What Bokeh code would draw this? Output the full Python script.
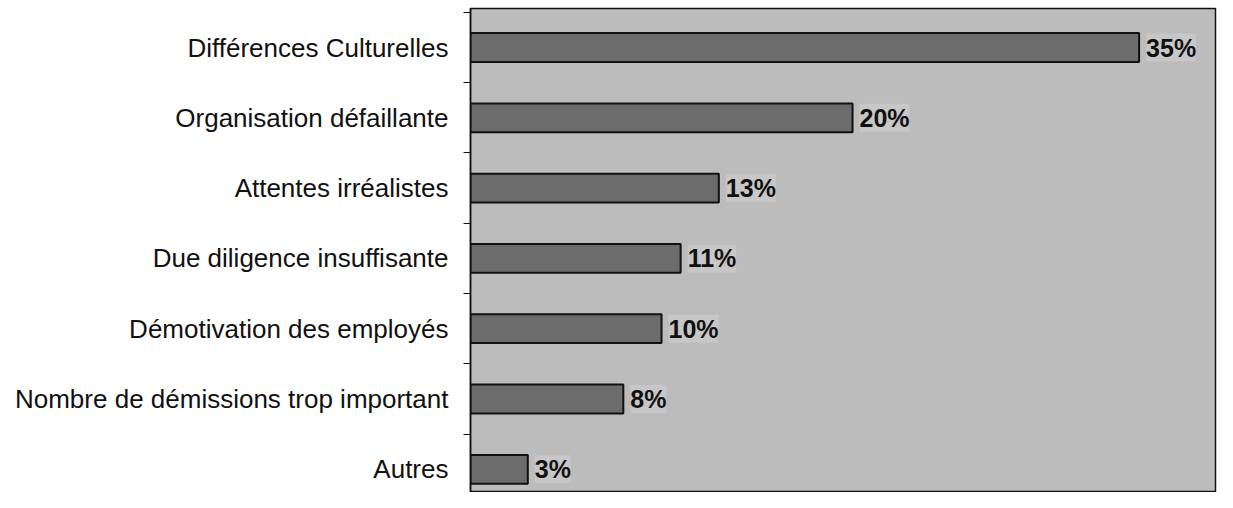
from bokeh.plotting import figure
from bokeh.models import ColumnDataSource, Range1d, FixedTicker, LabelSet
from bokeh.core.properties import value
from bokeh.embed import file_html
from bokeh.resources import INLINE

categories = [
    "Différences Culturelles",
    "Organisation défaillante",
    "Attentes irréalistes",
    "Due diligence insuffisante",
    "Démotivation des employés",
    "Nombre de démissions trop important",
    "Autres",
]
values = [35, 20, 13, 11, 10, 8, 3]
value_labels = ["35%", "20%", "13%", "11%", "10%", "8%", "3%"]

n = len(categories)
ypos = [n - 1 - i for i in range(n)]  # top to bottom

src = ColumnDataSource(dict(y=ypos, v=values, lab=value_labels, cat=categories))

p = figure(
    width=1217, height=492,
    x_range=Range1d(0, 39.0), y_range=Range1d(-0.33, n - 0.445),
    output_backend="svg", toolbar_location=None, x_axis_location=None,
    min_border_left=470, min_border_right=2, min_border_top=8, min_border_bottom=0,
)
p.background_fill_color = "#bcbcbc"
p.border_fill_color = "white"
p.outline_line_color = "#111111"
p.outline_line_width = 1.5
p.grid.visible = False

p.hbar(y="y", right="v", left=0, height=0.41, source=src,
       fill_color="#6c6c6c", line_color="#111111", line_width=2)

labels = LabelSet(x="v", y="y", text="lab", source=src, x_offset=7,
                  text_baseline="middle", text_align="left",
                  text_font=value("Liberation Sans"), text_font_size=value("25px"),
                  text_font_style=value("bold"), text_color="#111111",
                  background_fill_color="#d2d2d2", background_fill_alpha=0.5)
p.add_layout(labels)

ax = p.yaxis[0]
ax.ticker = FixedTicker(ticks=ypos, minor_ticks=[i + 0.5 for i in range(-1, n)])
ax.major_label_overrides = {y: c for y, c in zip(ypos, categories)}
ax.major_tick_out = 0
ax.major_tick_in = 0
ax.minor_tick_out = 7
ax.minor_tick_in = 0
ax.minor_tick_line_color = "#111111"
ax.axis_line_color = "#111111"
ax.axis_line_width = 1.5
ax.major_label_standoff = 15
ax.major_label_text_font = "Liberation Sans"
ax.major_label_text_font_size = "26px"
ax.major_label_text_color = "#111111"

open("out.html", "w").write(file_html(p, INLINE))
